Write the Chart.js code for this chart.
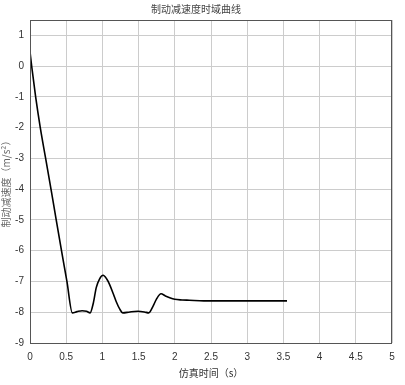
<!DOCTYPE html>
<html>
<head>
<meta charset="utf-8">
<script src="https://cdn.jsdelivr.net/npm/chart.js@4.4.0/dist/chart.umd.min.js"></script>
<style>
  body { margin: 0; background: #fff; }
  canvas { display: block; }
</style>
</head>
<body>
<canvas id="brakeChart" width="405" height="385"></canvas>
<script>
// time (s) and braking deceleration (m/s^2)
const times = [0, 0.023, 0.078, 0.142, 0.216, 0.29, 0.362, 0.435, 0.51, 0.585,
  0.65, 0.72, 0.78, 0.83, 0.875, 0.915, 0.96, 1.01, 1.06, 1.10,
  1.15, 1.19, 1.24, 1.28, 1.38, 1.49, 1.58, 1.64, 1.70, 1.745,
  1.81, 1.87, 1.93, 2.0, 2.1, 2.2, 2.4, 2.7, 3.0, 3.55];
const decel = [0.47, 0, -1, -2, -3, -4, -5, -6, -7, -8.02,
  -7.98, -7.95, -7.97, -8.02, -7.7, -7.2, -6.92, -6.8, -6.92, -7.1,
  -7.4, -7.65, -7.9, -8.02, -7.99, -7.97, -7.99, -8.02, -7.8, -7.58,
  -7.40, -7.47, -7.53, -7.58, -7.60, -7.61, -7.63, -7.63, -7.63, -7.63];

const chartTitle = "制动减速度时域曲线";
const xTitle = "仿真时间（s）";
const yTitle = "制动减速度（m/s²）";

const tickFont = { family: "'Liberation Sans', Arial, sans-serif", size: 10 };
const cjkFont = { family: "'Noto Sans CJK SC', sans-serif", size: 10, weight: "normal" };

// draws the closed box round the plot area
const boxPlugin = {
  id: "box",
  afterDraw(chart) {
    const a = chart.chartArea;
    const ctx = chart.ctx;
    ctx.save();
    ctx.strokeStyle = "#555";
    ctx.lineWidth = 1;
    ctx.strokeRect(a.left + 0.5, a.top + 0.5, a.right - a.left - 1, a.bottom - a.top);
    ctx.restore();
  }
};

const ctx = document.getElementById("brakeChart").getContext("2d");
new Chart(ctx, {
  type: "line",
  data: {
    datasets: [{
      data: times.map((t, i) => ({ x: t, y: decel[i] })),
      borderColor: "#000",
      borderWidth: 1.6,
      pointRadius: 0,
      fill: false,
      cubicInterpolationMode: "monotone"
    }]
  },
  options: {
    responsive: false,
    animation: false,
    layout: { padding: { left: 0, right: 13, top: 0, bottom: 0 } },
    plugins: {
      legend: { display: false },
      tooltip: { enabled: false },
      title: {
        display: true,
        text: chartTitle,
        color: "#444",
        font: cjkFont,
        padding: { top: 3, bottom: 5 }
      }
    },
    scales: {
      x: {
        type: "linear",
        min: 0,
        max: 5,
        grid: { color: "#cccccc", drawTicks: false },
        border: { display: false },
        ticks: { stepSize: 0.5, color: "#333", font: tickFont, padding: 8, maxRotation: 0,
          callback: v => String(v) },
        title: { display: true, text: xTitle, color: "#333", font: cjkFont, padding: { top: 2, bottom: 6 } },
        afterFit(scale) { scale.height = 42; }
      },
      y: {
        min: -9,
        max: 1.5,
        grid: { color: "#cccccc", drawTicks: false },
        border: { display: false },
        ticks: { stepSize: 1, includeBounds: false, color: "#333", font: tickFont, padding: 6,
          callback: v => String(v) },
        title: { display: true, text: yTitle, color: "#666", font: cjkFont, padding: { top: 0, bottom: 0 } },
        afterFit(scale) { scale.width = 30; }
      }
    }
  },
  plugins: [boxPlugin]
});
</script>
</body>
</html>
